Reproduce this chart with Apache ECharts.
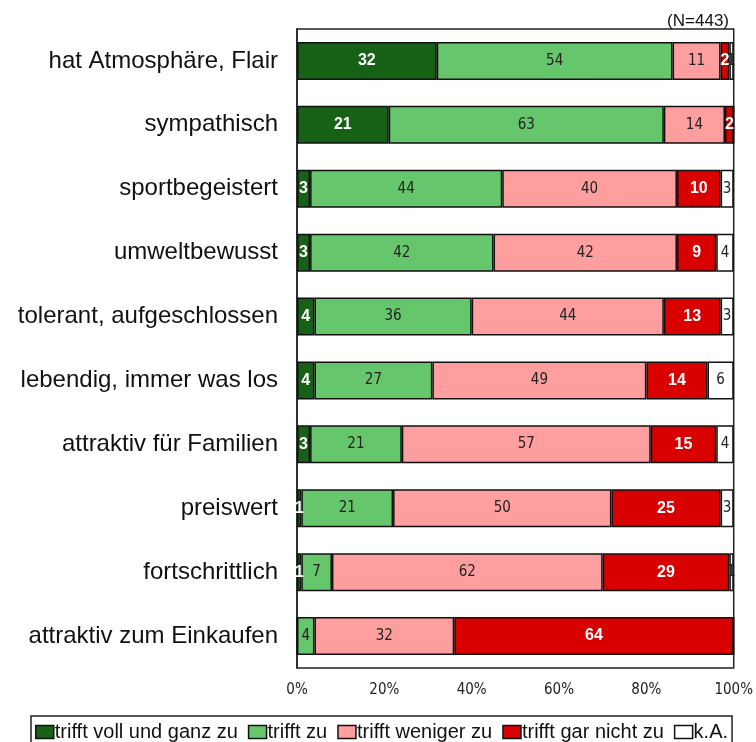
<!DOCTYPE html>
<html>
<head>
<meta charset="utf-8">
<script src="https://cdn.jsdelivr.net/npm/echarts@6/dist/echarts.min.js"></script>
<style>
  html, body { margin: 0; padding: 0; background: #fff; }
  #main { width: 756px; height: 742px; }
</style>
</head>
<body>
<div id="main"></div>
<script>
  // Kategorien von oben nach unten
  var categories = ['hat Atmosphäre, Flair', 'sympathisch', 'sportbegeistert', 'umweltbewusst',
    'tolerant, aufgeschlossen', 'lebendig, immer was los', 'attraktiv für Familien',
    'preiswert', 'fortschrittlich', 'attraktiv zum Einkaufen'];
  var seriesNames = ['trifft voll und ganz zu', 'trifft zu', 'trifft weniger zu', 'trifft gar nicht zu', 'k.A.'];
  var vollUndGanz = [32, 21, 3, 3, 4, 4, 3, 1, 1, 0];
  var trifftZu = [54, 63, 44, 42, 36, 27, 21, 21, 7, 4];
  var weniger = [11, 14, 40, 42, 44, 49, 57, 50, 62, 32];
  var garNicht = [2, 2, 10, 9, 13, 14, 15, 25, 29, 64];
  var keineAngabe = [1, 0, 3, 4, 3, 6, 4, 3, 1, 0];
  var xTicks = [0, 20, 40, 60, 80, 100];

  var colors = ['#176117', '#66c66c', '#ff9e9e', '#d90000', '#ffffff'];
  var labelLight = [true, false, false, true, false];
  var values = [vollUndGanz, trifftZu, weniger, garNicht, keineAngabe];
  var narrow = 'DejaVu Sans Condensed, Liberation Sans Narrow, Liberation Sans';

  var myChart = echarts.init(document.getElementById('main'));

  var series = values.map(function (arr, i) {
    return {
      name: seriesNames[i],
      type: 'bar',
      stack: 'total',
      barWidth: 38,
      data: arr,
      itemStyle: { color: colors[i], borderColor: '#111', borderWidth: 1.5 },
      label: {
        show: true,
        position: 'inside',
        fontFamily: labelLight[i] ? 'Liberation Sans' : narrow,
        fontSize: labelLight[i] ? 16 : 15,
        fontWeight: labelLight[i] ? 'bold' : 'normal',
        color: labelLight[i] ? '#fff' : '#222',
        formatter: function (p) { return p.value > 0 ? p.value : ''; }
      }
    };
  });

  var option = {
    animation: false,
    grid: {
      left: 297, width: 441, top: 29, height: 639,
      show: true, borderColor: '#222', borderWidth: 1.5
    },
    title: {
      text: '(N=443)',
      right: 22, top: 8,
      textStyle: { fontFamily: 'Liberation Sans', fontSize: 17, fontWeight: 'normal', color: '#111' }
    },
    legend: {
      data: seriesNames,
      top: 716, left: 31,
      width: 720,
      padding: [6, 4, 8, 4],
      borderColor: '#222', borderWidth: 1.5,
      itemWidth: 18, itemHeight: 13, itemGap: 10,
      icon: 'rect',
      itemStyle: { borderColor: '#111', borderWidth: 1.5 },
      textStyle: { fontFamily: 'Liberation Sans', fontSize: 20, color: '#111', padding: [0, 0, 0, -4] }
    },
    xAxis: {
      type: 'value',
      min: 0, max: 100, interval: 20,
      axisLine: { show: false },
      axisTick: { show: false },
      splitLine: { show: false },
      axisLabel: {
        margin: 15,
        fontFamily: narrow,
        fontSize: 15, color: '#222',
        formatter: function (v) { return xTicks.indexOf(v) >= 0 ? v + '%' : ''; }
      }
    },
    yAxis: {
      type: 'category',
      data: categories,
      inverse: true,
      axisLine: { show: true, lineStyle: { color: '#222', width: 1.5 } },
      axisTick: { show: false },
      axisLabel: {
        margin: 19,
        fontFamily: 'Liberation Sans',
        fontSize: 24, color: '#111'
      }
    },
    series: series
  };

  myChart.setOption(option);
</script>
</body>
</html>
